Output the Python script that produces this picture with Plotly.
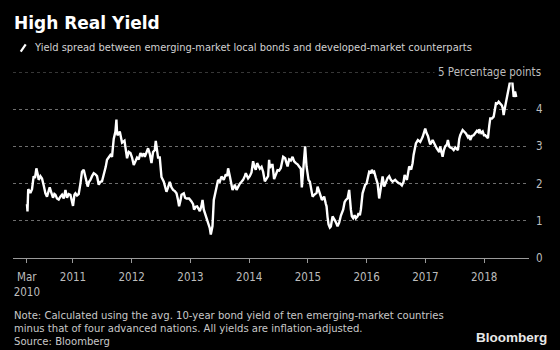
import pandas as pd
import plotly.graph_objects as go

# ---- data (decimal year, spread in percentage points) ----
years = [
2010.216,2010.225,2010.237,2010.245,2010.274,2010.302,2010.330,2010.353,2010.376,2010.399,
2010.416,2010.445,2010.472,2010.501,2010.530,2010.557,2010.581,2010.603,2010.632,2010.659,
2010.683,2010.700,2010.727,2010.756,2010.785,2010.813,2010.842,2010.871,2010.898,2010.927,
2010.956,2010.983,2011.000,2011.024,2011.041,2011.068,2011.097,2011.126,2011.153,2011.182,
2011.211,2011.250,2011.273,2011.296,2011.324,2011.353,2011.382,2011.409,2011.438,2011.467,
2011.494,2011.535,2011.557,2011.579,2011.608,2011.637,2011.664,2011.693,2011.722,2011.739,
2011.750,2011.762,2011.796,2011.818,2011.835,2011.876,2011.898,2011.920,2011.949,2011.978,
2012.005,2012.034,2012.063,2012.090,2012.119,2012.148,2012.176,2012.204,2012.222,2012.250,
2012.278,2012.307,2012.336,2012.363,2012.392,2012.409,2012.431,2012.448,2012.477,2012.506,
2012.545,2012.567,2012.591,2012.618,2012.647,2012.676,2012.704,2012.733,2012.762,2012.789,
2012.806,2012.830,2012.847,2012.886,2012.908,2012.932,2012.976,2013.017,2013.044,2013.061,
2013.090,2013.113,2013.136,2013.159,2013.187,2013.205,2013.227,2013.244,2013.273,2013.300,
2013.329,2013.346,2013.363,2013.375,2013.397,2013.431,2013.453,2013.470,2013.499,2013.528,
2013.567,2013.601,2013.624,2013.641,2013.670,2013.692,2013.716,2013.738,2013.755,2013.784,
2013.811,2013.840,2013.869,2013.896,2013.925,2013.942,2013.981,2014.010,2014.039,2014.066,
2014.090,2014.112,2014.135,2014.152,2014.181,2014.210,2014.237,2014.266,2014.295,2014.322,
2014.339,2014.351,2014.373,2014.397,2014.424,2014.453,2014.482,2014.509,2014.538,2014.578,
2014.612,2014.636,2014.653,2014.680,2014.709,2014.738,2014.765,2014.794,2014.823,2014.850,
2014.879,2014.896,2014.918,2014.942,2014.952,2014.976,2014.993,2015.010,2015.033,2015.050,
2015.079,2015.106,2015.123,2015.147,2015.164,2015.191,2015.220,2015.237,2015.259,2015.276,
2015.305,2015.317,2015.334,2015.351,2015.373,2015.390,2015.419,2015.446,2015.463,2015.487,
2015.504,2015.532,2015.561,2015.600,2015.624,2015.646,2015.675,2015.702,2015.714,2015.731,
2015.748,2015.770,2015.794,2015.816,2015.845,2015.862,2015.884,2015.901,2015.930,2015.952,
2015.975,2015.998,2016.015,2016.043,2016.072,2016.089,2016.111,2016.128,2016.157,2016.186,
2016.213,2016.230,2016.254,2016.271,2016.298,2016.327,2016.356,2016.383,2016.412,2016.441,
2016.486,2016.515,2016.544,2016.571,2016.600,2016.629,2016.646,2016.685,2016.724,2016.758,
2016.782,2016.799,2016.826,2016.838,2016.872,2016.912,2016.952,2016.997,2017.021,2017.043,
2017.065,2017.082,2017.123,2017.145,2017.167,2017.191,2017.213,2017.235,2017.252,2017.281,
2017.293,2017.315,2017.337,2017.366,2017.383,2017.406,2017.423,2017.452,2017.481,2017.508,
2017.537,2017.554,2017.576,2017.593,2017.634,2017.668,2017.690,2017.724,2017.746,2017.763,
2017.792,2017.821,2017.849,2017.878,2017.907,2017.917,2017.951,2017.975,2017.997,2018.019,
2018.048,2018.065,2018.087,2018.104,2018.133,2018.162,2018.179,2018.201,2018.223,2018.247,
2018.274,2018.303,2018.320,2018.332,2018.349,2018.360,2018.389,2018.418,2018.435,2018.452,
2018.474,2018.491,2018.503,2018.520,2018.530,2018.547,
]
spread = [
1.45,1.25,1.85,1.83,1.75,1.85,2.2,2.15,2.41,2.25,
2.1,2.2,2.14,1.95,1.74,1.65,1.8,1.9,1.75,1.62,
1.72,1.7,1.6,1.57,1.65,1.7,1.6,1.83,1.62,1.72,
1.7,1.55,1.4,1.7,1.74,1.68,1.72,2.0,2.32,2.37,
2.2,1.92,2.05,2.1,2.2,2.28,2.25,2.2,1.97,2.05,
2.06,2.28,2.45,2.64,2.72,2.77,2.72,3.2,3.4,3.72,
3.35,3.3,3.4,3.25,3.1,3.15,2.9,2.68,2.85,2.82,
2.7,2.5,2.6,2.7,2.65,2.82,2.75,2.81,2.72,2.85,
2.95,2.8,2.55,2.85,2.9,3.15,2.9,2.7,2.7,2.18,
2.05,1.95,1.78,1.9,2.05,1.9,1.83,1.8,1.74,1.55,
1.39,1.55,1.7,1.74,1.62,1.6,1.6,1.52,1.45,1.3,
1.38,1.39,1.3,1.26,1.4,1.56,1.3,1.21,1.03,0.92,
0.8,0.63,0.75,0.86,1.56,1.83,1.95,2.1,2.05,2.19,
2.1,2.25,2.2,2.41,2.2,2.0,1.83,1.9,1.97,1.83,
1.92,2.0,2.05,2.1,2.2,2.28,2.14,2.2,2.3,2.6,
2.45,2.37,2.55,2.5,2.4,2.45,2.32,2.06,2.15,2.2,
2.64,2.42,2.5,2.5,2.12,2.25,2.36,2.35,2.42,2.72,
2.68,2.55,2.46,2.65,2.62,2.72,2.6,2.55,2.52,2.46,
2.4,1.9,2.42,2.7,3.0,2.46,2.3,2.1,2.05,1.92,
1.65,1.7,1.72,1.75,1.92,1.75,1.65,1.56,1.62,1.65,
1.45,1.39,1.1,0.9,0.82,0.85,1.12,1.02,1.0,0.92,
0.85,0.95,1.14,1.3,1.5,1.56,1.6,1.83,1.55,1.3,
1.12,1.07,1.15,1.07,1.12,1.21,1.15,1.3,1.74,1.85,
1.97,2.0,2.1,2.32,2.3,2.37,2.3,2.32,2.15,2.0,
1.6,1.8,2.0,2.19,1.92,2.05,2.15,2.2,2.1,2.05,
2.1,2.05,2.01,2.0,1.95,2.05,2.23,2.1,2.46,2.38,
2.55,2.77,3.0,3.08,3.17,3.12,3.25,3.48,3.35,3.28,
3.15,3.05,3.17,3.1,3.0,2.95,2.9,2.85,3.0,2.8,
2.72,2.9,3.0,3.05,3.17,3.0,2.97,2.95,2.9,2.97,
2.92,2.9,3.2,3.3,3.44,3.4,3.35,3.25,3.3,3.17,
3.28,3.3,3.36,3.42,3.38,3.46,3.36,3.4,3.3,3.3,
3.25,3.22,3.55,3.75,3.75,3.8,3.95,4.16,4.15,4.2,
4.15,4.1,4.0,3.84,4.0,4.1,4.35,4.51,4.7,4.83,
4.83,4.5,4.33,4.45,4.45,4.33,
]

tick_dates = ["2010-03-20", "2011-01-01", "2012-01-01", "2013-01-01", "2014-01-01",
              "2015-01-01", "2016-01-01", "2017-01-01", "2018-01-01"]
tick_labels = ["Mar<br>2010", "2011", "2012", "2013", "2014", "2015", "2016", "2017", "2018"]
y_ticks = [0, 1, 2, 3, 4]
x_range = ["2009-12-24", "2018-10-07"]

title = "High Real Yield"
subtitle = "Yield spread between emerging-market local bonds and developed-market counterparts"
unit_label = "5 Percentage points"
notes = ["Note: Calculated using the avg. 10-year bond yield of ten emerging-market countries",
         "minus that of four advanced nations. All yields are inflation-adjusted.",
         "Source: Bloomberg"]

# ---- build ----
base = pd.Timestamp("2010-01-01")
dates = [base + pd.to_timedelta((y - 2010) * 365.25, unit="D") for y in years]

W, H = 560, 350
L, R, T, B = 13, 31, 72, 92
PW, PH = W - L - R, H - T - B

def px(x, y):
    return (x - L) / PW, (H - B - y) / PH

NARROW = "Liberation Sans Narrow, Arial Narrow, DejaVu Sans Condensed, sans-serif"

fig = go.Figure()
fig.add_trace(go.Scatter(x=dates, y=spread, mode="lines",
                         line=dict(color="white", width=2.4), hoverinfo="skip",
                         showlegend=False))

annotations = []
def add_text(text, x, y, size, color, family=NARROW, xanchor="left", **kw):
    ax, ay = px(x, y)
    annotations.append(dict(text=text, x=ax, y=ay, xref="paper", yref="paper",
                            xanchor=xanchor, yanchor="middle", showarrow=False,
                            borderpad=0, font=dict(size=size, color=color, family=family), **kw))

add_text("<b>" + title + "</b>", 13, 23, 17, "white", family="DejaVu Sans, sans-serif")
add_text(subtitle, 33, 48, 11, "#d2d2d2")
for i, line in enumerate(notes):
    add_text(line, 13, 315 + 13 * i, 11.2, "#c8c8c8")
add_text("<b>Bloomberg</b>", 548, 337, 13.5, "#e8e8e8",
         family="Liberation Sans, Arial, sans-serif", xanchor="right")

ux, _ = px(545, 0)
annotations.append(dict(text=unit_label, x=ux, y=5, xref="paper", yref="y",
                        xanchor="right", yanchor="middle", showarrow=False,
                        bgcolor="black", borderpad=3,
                        font=dict(size=11.5, color="#bdbdbd", family=NARROW)))

sx0, sy0 = px(20.7, 51.7)
sx1, sy1 = px(25.7, 44.3)
shapes = [dict(type="line", xref="paper", yref="paper", x0=sx0, y0=sy0, x1=sx1, y1=sy1,
               line=dict(color="white", width=2.2))]

fig.update_layout(
    width=W, height=H,
    margin=dict(l=L, r=R, t=T, b=B, pad=0),
    paper_bgcolor="black", plot_bgcolor="black",
    annotations=annotations, shapes=shapes,
    xaxis=dict(type="date", range=x_range, tickvals=tick_dates, ticktext=tick_labels,
               showgrid=False, zeroline=False, showline=True, linecolor="#9a9a9a",
               linewidth=1, ticks="outside", ticklen=4, tickcolor="#9a9a9a",
               ticklabelstandoff=4,
               tickfont=dict(size=11.5, color="#bdbdbd", family=NARROW)),
    yaxis=dict(range=[0, 5], side="right", tickvals=y_ticks,
               ticktext=[str(v) for v in y_ticks],
               showgrid=True, gridcolor="#6e6e6e", griddash="dot", gridwidth=1,
               zeroline=False, showline=False, ticks="", ticklabelstandoff=6,
               tickfont=dict(size=11.5, color="#bdbdbd", family=NARROW)),
)
# gridline at 5 (top)
fig.add_hline(y=5, line=dict(color="#6e6e6e", width=1, dash="dot"), layer="below")

fig.write_html("out.html")
